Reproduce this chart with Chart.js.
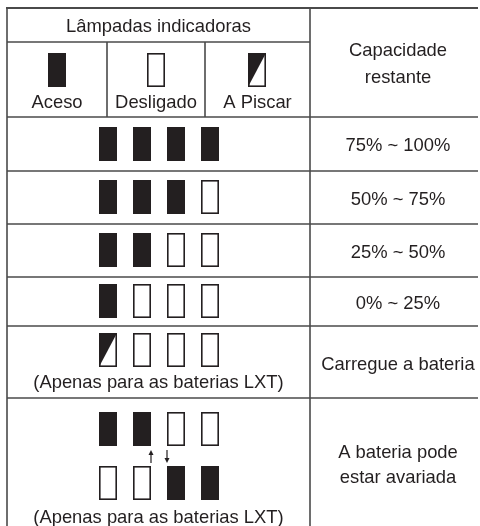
<!DOCTYPE html>
<html>
<head>
<meta charset="utf-8">
<script src="https://cdn.jsdelivr.net/npm/chart.js@4/dist/chart.umd.min.js"></script>
<style>
  html, body { margin: 0; padding: 0; background: #fff; }
  #wrap { position: relative; width: 480px; height: 526px; }
</style>
</head>
<body>
<div id="wrap"><canvas id="chart"></canvas></div>
<script>
  // ---- table content ----
  const headerTitle = 'Lâmpadas indicadoras';
  const legendLabels = ['Aceso', 'Desligado', 'A Piscar'];
  const legendStates = ['on', 'off', 'blink'];
  const capacityTitle = ['Capacidade', 'restante'];

  // lamp states per row (4 lamps each)
  const levelStates = [
    ['on', 'on', 'on', 'on'],
    ['on', 'on', 'on', 'off'],
    ['on', 'on', 'off', 'off'],
    ['on', 'off', 'off', 'off']
  ];
  const levelLabels = ['75% ~ 100%', '50% ~ 75%', '25% ~ 50%', '0% ~ 25%'];
  const chargeStates = ['blink', 'off', 'off', 'off'];
  const chargeLabel = ['Carregue a bateria'];
  const faultStates = [
    ['on', 'on', 'off', 'off'],
    ['off', 'off', 'on', 'on']
  ];
  const faultLabel = ['A bateria pode', 'estar avariada'];
  const lxtNote = '(Apenas para as baterias LXT)';

  // ---- layout (pixels) ----
  const W = 480, H = 526;
  const rowEdges = [8, 42, 117, 171, 224, 277, 326, 398, 526];
  const subCols = [7, 107, 205, 310];
  const rightEnd = 478;
  const rightTextX = 398;
  const lampX0 = 108, lampDX = 34, lampW = 18, lampH = 34;
  const ink = '#231f20';
  const lineColor = '#4a4a4a';
  const font = '18.4px "Liberation Sans", Arial, sans-serif';

  function makeLamp(state) {
    const c = document.createElement('canvas');
    c.width = lampW;
    c.height = lampH;
    const g = c.getContext('2d');
    if (state === 'on') {
      g.fillStyle = ink;
      g.fillRect(0, 0, lampW, lampH);
      return c;
    }
    g.fillStyle = '#fff';
    g.fillRect(0, 0, lampW, lampH);
    if (state === 'blink') {
      g.fillStyle = ink;
      g.beginPath();
      g.moveTo(0, 0);
      g.lineTo(lampW, 0);
      g.lineTo(0, lampH);
      g.closePath();
      g.fill();
    }
    g.strokeStyle = ink;
    g.lineWidth = 1.6;
    g.strokeRect(0.8, 0.8, lampW - 1.6, lampH - 1.6);
    return c;
  }
  const lampImg = { on: makeLamp('on'), off: makeLamp('off'), blink: makeLamp('blink') };

  const lampX = i => lampX0 + i * lampDX;
  const rowMid = r => Math.floor((rowEdges[r] + rowEdges[r + 1]) / 2);

  // collect lamp points by state
  const points = { on: [], off: [], blink: [] };
  legendStates.forEach((s, i) => {
    points[s].push({ x: Math.floor((subCols[i] + subCols[i + 1]) / 2), y: 70 });
  });
  levelStates.forEach((row, r) => {
    row.forEach((s, i) => points[s].push({ x: lampX(i), y: rowMid(r + 2) }));
  });
  chargeStates.forEach((s, i) => points[s].push({ x: lampX(i), y: rowEdges[6] + 24 }));
  faultStates.forEach((row, k) => {
    row.forEach((s, i) => points[s].push({ x: lampX(i), y: rowEdges[7] + 31 + k * 54 }));
  });

  const tablePlugin = {
    id: 'tableGrid',
    beforeDatasetsDraw(chart) {
      const { ctx, scales: { x, y } } = chart;
      ctx.save();
      ctx.strokeStyle = lineColor;
      ctx.lineWidth = 1.6;
      const seg = (x0, y0, x1, y1) => {
        ctx.beginPath();
        ctx.moveTo(x.getPixelForValue(x0), y.getPixelForValue(y0));
        ctx.lineTo(x.getPixelForValue(x1), y.getPixelForValue(y1));
        ctx.stroke();
      };
      // top border is a little heavier
      ctx.lineWidth = 2;
      seg(subCols[0] - 1, rowEdges[0], rightEnd, rowEdges[0]);
      ctx.lineWidth = 1.6;
      seg(subCols[0], rowEdges[1], subCols[3], rowEdges[1]);
      for (let r = 2; r <= 7; r++) seg(subCols[0], rowEdges[r], rightEnd, rowEdges[r]);
      seg(subCols[0], rowEdges[0], subCols[0], H);
      seg(subCols[3], rowEdges[0], subCols[3], H);
      seg(subCols[1], rowEdges[1], subCols[1], rowEdges[2]);
      seg(subCols[2], rowEdges[1], subCols[2], rowEdges[2]);

      // swap arrows between the two fault rows
      ctx.strokeStyle = ink;
      ctx.fillStyle = ink;
      ctx.lineWidth = 1.2;
      const arrow = (xv, from, to) => {
        const px = x.getPixelForValue(xv);
        const a = y.getPixelForValue(from), b = y.getPixelForValue(to);
        const d = Math.sign(b - a);
        ctx.beginPath();
        ctx.moveTo(px, a);
        ctx.lineTo(px, b - d * 3);
        ctx.stroke();
        ctx.beginPath();
        ctx.moveTo(px, b);
        ctx.lineTo(px - 2.5, b - d * 5);
        ctx.lineTo(px + 2.5, b - d * 5);
        ctx.closePath();
        ctx.fill();
      };
      arrow(lampX(1) + lampW / 2, 463, 450);
      arrow(lampX(2) - lampW / 2, 450, 463);
      ctx.restore();
    },
    afterDatasetsDraw(chart) {
      const { ctx, scales: { x, y } } = chart;
      ctx.save();
      ctx.fillStyle = ink;
      ctx.font = font;
      ctx.textAlign = 'center';
      ctx.textBaseline = 'alphabetic';
      const text = (t, xv, yv) => ctx.fillText(t, x.getPixelForValue(xv), y.getPixelForValue(yv));
      const leftMid = (subCols[0] + subCols[3]) / 2;
      text(headerTitle, leftMid, 32);
      legendLabels.forEach((t, i) => text(t, (subCols[i] + subCols[i + 1]) / 2, 108));
      capacityTitle.forEach((t, i) => text(t, rightTextX, 56 + i * 27));
      levelLabels.forEach((t, r) => text(t, rightTextX, (rowEdges[r + 2] + rowEdges[r + 3]) / 2 + 7));
      chargeLabel.forEach(t => text(t, rightTextX, 370));
      faultLabel.forEach((t, i) => text(t, rightTextX, 458 + i * 25));
      text(lxtNote, leftMid, 388);
      text(lxtNote, leftMid, 523);
      ctx.restore();
    }
  };

  const datasets = ['on', 'off', 'blink'].map(s => ({
    label: s,
    data: points[s],
    pointStyle: lampImg[s],
    pointRadius: 1,
    showLine: false,
    clip: false
  }));

  new Chart(document.getElementById('chart'), {
    type: 'scatter',
    data: { datasets },
    options: {
      responsive: true,
      maintainAspectRatio: false,
      animation: false,
      layout: { padding: 0, autoPadding: false },
      events: [],
      plugins: { legend: { display: false }, tooltip: { enabled: false } },
      scales: {
        x: { type: 'linear', min: 0, max: W, display: false },
        y: { type: 'linear', min: 0, max: H, reverse: true, display: false }
      }
    },
    plugins: [tablePlugin]
  });
</script>
</body>
</html>
